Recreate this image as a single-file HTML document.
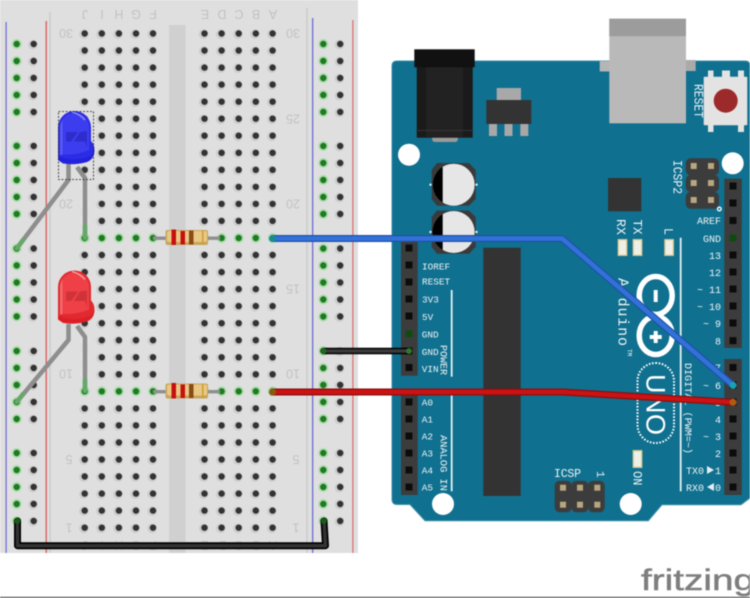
<!DOCTYPE html>
<html><head><meta charset="utf-8"><style>
html,body{margin:0;padding:0;background:#fff;width:750px;height:598px;overflow:hidden}
svg{display:block;filter:blur(.4px)}
.bl{font-family:"Liberation Sans",sans-serif;font-size:12.500px;fill:#c2c2c2;text-anchor:middle}
.m{font-family:"Liberation Mono","DejaVu Sans Mono",monospace;font-size:10px;fill:#eef4f6}
.l{font-size:9.400px}
.e{text-anchor:end}
.b{font-size:13px}
</style></head><body>
<svg width="750" height="598" viewBox="0 0 750 598" xmlns="http://www.w3.org/2000/svg">
<defs>
<g id="h"><circle cx="-.8" cy=".6" r="4.800" fill="#cdcdcd"/><circle r="3.200" fill="#333"/></g>
<g id="g"><circle r="5" fill="#aadcaa"/><circle r="3.200" fill="#1f7a22"/></g>
<g id="m"><use href="#h" x="84.7"/><use href="#h" x="101.8"/><use href="#h" x="118.9"/><use href="#h" x="136"/><use href="#h" x="153"/><use href="#h" x="204.5"/><use href="#h" x="221.6"/><use href="#h" x="238.7"/><use href="#h" x="255.8"/><use href="#h" x="272.6"/></g>
<g id="mg"><use href="#g" x="84.7"/><use href="#g" x="101.8"/><use href="#g" x="118.9"/><use href="#g" x="136"/><use href="#g" x="153"/><use href="#g" x="204.5"/><use href="#g" x="221.6"/><use href="#g" x="238.7"/><use href="#g" x="255.8"/><use href="#g" x="272.6"/></g>
<g id="r"><use href="#g" x="16.7"/><use href="#h" x="33.7"/><use href="#g" x="323.3"/><use href="#h" x="340.2"/></g>
<g id="res">
<rect x="153" y="-1.500" width="67" height="3.400" fill="#8f8f8f"/>
<rect x="165.500" y="-8" width="42.500" height="15" rx="2" fill="#c9a45c"/>
<rect x="167" y="-7" width="40" height="11" rx="2" fill="#e9c784"/>
<rect x="171.500" y="-8.500" width="4.500" height="15.500" fill="#c5100f"/>
<rect x="180.500" y="-7" width="4.500" height="13.500" fill="#c5100f"/>
<rect x="189" y="-7.500" width="4.500" height="14" fill="#8a4b14"/>
<rect x="202" y="-8" width="1.500" height="15" fill="#c9a030"/>
</g>
<path id="ledb" d="M58 156V127.500A16.500 16.500 0 0 1 91 127.500V141Q94.500 144 94.500 150.500Q94.500 159 87 162Q75 165.500 63 163.500L58 160Z"/>
<g id="p"><rect x="-3.500" y="-3.500" width="7" height="7" fill="#0c0c0c"/></g>
<g id="ip"><rect x="-3" y="-3" width="6" height="6" fill="#b8a77e"/></g>
</defs>

<!-- breadboard -->
<rect width="358" height="553" fill="#dfdfdf"/>
<rect x="49" y="12" width="2" height="541" fill="#d0d0d0"/>
<rect x="306" y="8" width="2" height="545" fill="#d0d0d0"/>
<rect x="169" y="25" width="16.500" height="528" fill="#d0d0d0"/>
<rect x="5.500" y="22" width="1.200" height="531" fill="#6a6ad8"/>
<rect x="45.500" y="21" width="1.500" height="532" fill="#dc6a6a"/>
<rect x="312" y="18" width="1.300" height="535" fill="#6a6ad8"/>
<rect x="352.300" y="20" width="1.200" height="533" fill="#dc6a6a"/>

<g>
<use href="#m" y="33.500"/><use href="#m" y="50.500"/><use href="#m" y="67.600"/><use href="#m" y="84.600"/><use href="#m" y="101.700"/><use href="#m" y="118.700"/><use href="#m" y="135.700"/><use href="#m" y="152.800"/><use href="#m" y="169.800"/><use href="#m" y="186.900"/><use href="#m" y="203.900"/><use href="#m" y="220.900"/><use href="#mg" y="238"/><use href="#m" y="255"/><use href="#m" y="272.100"/><use href="#m" y="289.100"/><use href="#m" y="306.100"/><use href="#m" y="323.200"/><use href="#m" y="340.200"/><use href="#m" y="357.300"/><use href="#m" y="374.300"/><use href="#mg" y="391.300"/><use href="#m" y="408.400"/><use href="#m" y="425.400"/><use href="#m" y="442.500"/><use href="#m" y="459.500"/><use href="#m" y="476.500"/><use href="#m" y="493.600"/><use href="#m" y="510.600"/><use href="#m" y="527.700"/>
</g>
<g>
<use href="#r" y="44"/><use href="#r" y="61"/><use href="#r" y="78"/><use href="#r" y="95"/><use href="#r" y="112"/><use href="#r" y="146"/><use href="#r" y="163"/><use href="#r" y="180"/><use href="#r" y="197"/><use href="#r" y="214"/><use href="#r" y="248.500"/><use href="#r" y="265.500"/><use href="#r" y="282.500"/><use href="#r" y="299.500"/><use href="#r" y="316.500"/><use href="#r" y="351"/><use href="#r" y="368"/><use href="#r" y="385"/><use href="#r" y="402"/><use href="#r" y="419"/><use href="#r" y="453"/><use href="#r" y="470"/><use href="#r" y="487"/><use href="#r" y="504"/><use href="#r" y="521"/>
</g>
<!-- holes hidden under LED leads -->
<g fill="#e2e2e2"><circle cx="84.700" cy="186.900" r="5.500"/><circle cx="84.700" cy="203.900" r="5.500"/><circle cx="84.700" cy="220.900" r="5.500"/><circle cx="84.700" cy="340.200" r="5.500"/><circle cx="84.700" cy="357.300" r="5.500"/><circle cx="84.700" cy="374.300" r="5.500"/></g>

<!-- breadboard labels -->
<g class="bl">
<text transform="rotate(180 85 15)" x="85" y="20">J</text><text transform="rotate(180 102 15)" x="102" y="20">I</text><text transform="rotate(180 119 15)" x="119" y="20">H</text><text transform="rotate(180 136 15)" x="136" y="20">G</text><text transform="rotate(180 153 15)" x="153" y="20">F</text>
<text transform="rotate(180 205 15)" x="205" y="20">E</text><text transform="rotate(180 222 15)" x="222" y="20">D</text><text transform="rotate(180 239 15)" x="239" y="20">C</text><text transform="rotate(180 256 15)" x="256" y="20">B</text><text transform="rotate(180 273 15)" x="273" y="20">A</text>
<text transform="rotate(180 85 546)" x="85" y="551">J</text><text transform="rotate(180 102 546)" x="102" y="551">I</text><text transform="rotate(180 119 546)" x="119" y="551">H</text><text transform="rotate(180 136 546)" x="136" y="551">G</text><text transform="rotate(180 153 546)" x="153" y="551">F</text>
<text transform="rotate(180 205 546)" x="205" y="551">E</text><text transform="rotate(180 222 546)" x="222" y="551">D</text><text transform="rotate(180 239 546)" x="239" y="551">C</text><text transform="rotate(180 256 546)" x="256" y="551">B</text><text transform="rotate(180 273 546)" x="273" y="551">A</text>
<text transform="rotate(180 66 33.500)" x="66" y="38">30</text><text transform="rotate(180 66 204)" x="66" y="208.500">20</text><text transform="rotate(180 66 374)" x="66" y="378.500">10</text><text transform="rotate(180 69 459.500)" x="69" y="464">5</text><text transform="rotate(180 69 527.700)" x="69" y="532">1</text>
<text transform="rotate(180 293 33.500)" x="293" y="38">30</text><text transform="rotate(180 293 118.700)" x="293" y="123">25</text><text transform="rotate(180 293 204)" x="293" y="208.500">20</text><text transform="rotate(180 293 289)" x="293" y="293.500">15</text><text transform="rotate(180 293 374)" x="293" y="378.500">10</text><text transform="rotate(180 296 459.500)" x="296" y="464">5</text><text transform="rotate(180 296 527.700)" x="296" y="532">1</text>
</g>

<!-- resistors -->
<use href="#res" y="238"/>
<use href="#res" y="391.500"/>

<!-- LED leads -->
<g fill="none" stroke="#8e8e8e" stroke-width="4.500" stroke-linejoin="round">
<path d="M68.500 164V180L16.700 248.500"/><path d="M77 167L85 178V238"/>
<path d="M68.500 324V340L16.700 402"/><path d="M77 326L85 337V391"/>
</g>
<g stroke="#67a86a" stroke-width="4.500" fill="none" stroke-linecap="round">
<path d="M85 226V238"/><path d="M85 380V391"/><path d="M23 240L16.700 248.500"/><path d="M23 394L16.700 402"/>
</g>

<!-- blue LED -->
<use href="#ledb" fill="#2c2ce6"/>
<path d="M60 156V127.500A14.500 14.500 0 0 1 89 127.500V150Q75 156 60 154Z" fill="#3d3df0"/>
<path d="M60 155V128A14 14 0 0 1 62.500 120V155Z" fill="#5a5af2"/>
<path d="M66 132H78L71 141.500H66ZM80 132L87 131V148L85 141.500H74Z" fill="#2d2dcc"/>
<path d="M58 156Q74 163 91 156L94 150Q94 159 87 162Q75 165 63 163L58 160Z" fill="#2222dd"/>
<path d="M72 112Q80 114 85 120" stroke="#8b8bf5" stroke-width="1.500" fill="none"/>
<rect x="58.500" y="111.500" width="35" height="68" fill="none" stroke="#222" stroke-width=".8" stroke-dasharray="2 1.500"/>

<!-- red LED -->
<g transform="translate(0 159.500)">
<use href="#ledb" fill="#e02a30"/>
<path d="M60 156V127.500A14.500 14.500 0 0 1 89 127.500V150Q75 156 60 154Z" fill="#ee4046"/>
<path d="M60 155V128A14 14 0 0 1 62.500 120V155Z" fill="#f26a6c"/>
<path d="M66 132H78L71 141.500H66ZM80 132L87 131V148L85 141.500H74Z" fill="#cf3338"/>
<path d="M58 156Q74 163 91 156L94 150Q94 159 87 162Q75 165 63 163L58 160Z" fill="#dc1f26"/>
<path d="M72 112Q80 114 85 120" stroke="#f69a9a" stroke-width="1.500" fill="none"/>
</g>

<!-- Arduino board -->
<path d="M397 61H745Q750 61 750 66V498L741 504.700H662L648.300 520.700H425L410 504.500H397Q392 504.500 392 499V66Q392 61 397 61Z" fill="#10708f" stroke="#3d8faa" stroke-width="1"/>
<!-- mount holes -->
<g fill="#fff"><circle cx="409" cy="154.700" r="11"/><circle cx="732.700" cy="163.300" r="11"/><circle cx="443" cy="504" r="11"/><circle cx="630.700" cy="504" r="11"/></g>
<!-- barrel jack -->
<rect x="432" y="136" width="26" height="6" fill="#9a9a9a" rx="3"/>
<rect x="416.700" y="67" width="56" height="70.700" fill="#1a1a1a"/>
<rect x="426" y="67" width="37" height="70" fill="#222"/>
<rect x="414.300" y="49.300" width="60.400" height="18" fill="#111"/>
<rect x="416" y="130" width="57" height="1" fill="#333"/>
<!-- regulator -->
<rect x="496.700" y="88" width="24.300" height="13" fill="#a8a8a8"/>
<rect x="489" y="123" width="8" height="13" fill="#a8a8a8"/><rect x="504.500" y="123" width="8" height="13" fill="#a8a8a8"/><rect x="520.300" y="123" width="8" height="13" fill="#a8a8a8"/>
<rect x="486.300" y="100" width="45" height="24" fill="#333"/>
<!-- USB -->
<rect x="599.700" y="61" width="12" height="10.500" fill="#b5b5b5"/><rect x="684" y="60" width="11.700" height="11" fill="#aaa"/>
<rect x="609.300" y="18.700" width="76.700" height="104.600" fill="#b9b9b9"/>
<rect x="609.300" y="18.700" width="76.700" height="17.500" fill="#9c9c9c"/>
<!-- reset -->
<g fill="#e3e3e3"><rect x="708" y="70.500" width="5.500" height="7"/><rect x="722" y="70.500" width="8" height="7"/><rect x="738" y="70.500" width="6" height="7"/><rect x="708" y="124" width="5.500" height="8"/><rect x="738" y="124" width="6" height="8"/></g>
<rect x="703.700" y="76.700" width="43.600" height="48.600" rx="1" fill="#e3e3e3"/>
<circle cx="725.700" cy="100.700" r="12" fill="#9c2a2a"/>
<text class="m b" transform="translate(694.500 84) rotate(90)" textLength="34" lengthAdjust="spacingAndGlyphs">RESET</text>
<!-- capacitors -->
<g><path d="M437 163H469L475.700 170V199L469 205.700H437L431.700 199V170Z" fill="#3a3a3a"/><circle cx="453.700" cy="184.700" r="21" fill="#e6e6e6"/><path d="M442.700 166.800A21 21 0 0 0 442.700 202.600Z" fill="#000"/><circle cx="430.500" cy="184.700" r="1.200" fill="#eee"/><circle cx="476.500" cy="184.700" r="1.200" fill="#eee"/></g>
<g><path d="M437 210.500H469L475.700 217V247L469 253.700H437L431.700 247V217Z" fill="#3a3a3a"/><circle cx="453.700" cy="232" r="21" fill="#e6e6e6"/><path d="M442.700 214A21 21 0 0 0 442.700 250Z" fill="#000"/><circle cx="430.500" cy="232" r="1.200" fill="#eee"/><circle cx="476.500" cy="232" r="1.200" fill="#eee"/></g>
<!-- chips -->
<rect x="608" y="178" width="33.300" height="33.300" fill="#333"/>
<rect x="483.300" y="247.700" width="37.400" height="248.300" fill="#333"/>
<!-- ICSP2 -->
<g fill="#3c3c3c"><rect x="685.700" y="158.300" width="33.300" height="17" rx="5"/><rect x="685.700" y="175" width="33.300" height="17" rx="5"/><rect x="685.700" y="191.800" width="33.300" height="17" rx="5"/></g>
<use href="#ip" x="693.700" y="166"/><use href="#ip" x="711" y="166"/><use href="#ip" x="693.700" y="183"/><use href="#ip" x="711" y="183"/><use href="#ip" x="693.700" y="200"/><use href="#ip" x="711" y="200"/>
<circle cx="719.300" cy="209" r="1.800" fill="none" stroke="#fff" stroke-width="1.300"/>
<text class="m b" transform="translate(673.500 160) rotate(90)" textLength="34" lengthAdjust="spacingAndGlyphs">ICSP2</text>
<!-- headers -->
<g fill="#3c3c3c"><rect x="724.300" y="178.700" width="17.400" height="169.300"/><rect x="724.300" y="359" width="17.400" height="136"/><rect x="401" y="242" width="16.700" height="133.700"/><rect x="401" y="394" width="16.700" height="101"/></g>
<use href="#p" x="733" y="186"/><use href="#p" x="733" y="203"/><use href="#p" x="733" y="220.500"/><rect x="729.500" y="234.500" width="7" height="7" fill="#0f4a12"/><use href="#p" x="733" y="255"/><use href="#p" x="733" y="272"/><use href="#p" x="733" y="289"/><use href="#p" x="733" y="306"/><use href="#p" x="733" y="323"/><use href="#p" x="733" y="340.700"/>
<use href="#p" x="733" y="367.500"/><use href="#p" x="733" y="385"/><use href="#p" x="733" y="402"/><use href="#p" x="733" y="419"/><use href="#p" x="733" y="436"/><use href="#p" x="733" y="453"/><use href="#p" x="733" y="470"/><use href="#p" x="733" y="487"/>
<use href="#p" x="409" y="248"/><use href="#p" x="409" y="265"/><use href="#p" x="409" y="282"/><use href="#p" x="409" y="299"/><use href="#p" x="409" y="316"/><rect x="405.500" y="330.200" width="7" height="7" fill="#0f4a12"/><use href="#p" x="409" y="351"/><use href="#p" x="409" y="367.500"/>
<use href="#p" x="409" y="402"/><use href="#p" x="409" y="419"/><use href="#p" x="409" y="436"/><use href="#p" x="409" y="453"/><use href="#p" x="409" y="470"/><use href="#p" x="409" y="487"/>
<!-- white lines -->
<g fill="#e4f0f4"><rect x="450.800" y="290" width="1.800" height="86.700"/><rect x="450.800" y="394" width="1.800" height="97.300"/><rect x="679.800" y="237.700" width="1.800" height="253.600"/></g>
<!-- left labels -->
<g class="m l">
<text x="422" y="269.500">IOREF</text><text x="422" y="284.500">RESET</text><text x="422" y="302.500">3V3</text><text x="422" y="320">5V</text><text x="421.700" y="337.500">GND</text><text x="421.700" y="355">GND</text><text x="421.700" y="372">VIN</text>
<text x="421.700" y="405.500">A0</text><text x="421.700" y="422.500">A1</text><text x="421.700" y="439.500">A2</text><text x="421.700" y="456.500">A3</text><text x="421.700" y="473.500">A4</text><text x="421.700" y="490.500">A5</text>
<text transform="translate(440.500 345) rotate(90)" textLength="30" lengthAdjust="spacingAndGlyphs" style="font-size:10.500px">POWER</text>
<text transform="translate(440.500 435) rotate(90)" textLength="56" lengthAdjust="spacingAndGlyphs" style="font-size:10.500px">ANALOG IN</text>
</g>
<!-- right labels -->
<g class="m e">
<text x="721" y="224">AREF</text><text x="721" y="242">GND</text><text x="721" y="259">13</text><text x="721" y="276">12</text><text x="721" y="293">~ 11</text><text x="721" y="310">~ 10</text><text x="721" y="327">~ 9</text><text x="721" y="344.500">8</text>
<text x="721" y="371">7</text><text x="721" y="389">~ 6</text><text x="721" y="406">5</text><text x="721" y="423">4</text><text x="721" y="440">~ 3</text><text x="721" y="457">2</text><text x="721" y="474">1</text><text x="721" y="491">0</text>
</g>
<text class="m" x="686" y="474">TX0</text><text class="m" x="686" y="491">RX0</text>
<path d="M707 466V474L714 470ZM714 483V491L707 487Z" fill="#e6eff3"/>
<text class="m" transform="translate(685 363) rotate(90)" textLength="91" lengthAdjust="spacingAndGlyphs">DIGITAL (PWM=~)</text>
<text class="m b" transform="translate(617 219) rotate(90)" textLength="16" lengthAdjust="spacingAndGlyphs">RX</text>
<text class="m b" transform="translate(633.500 219.500) rotate(90)" textLength="15" lengthAdjust="spacingAndGlyphs">TX</text>
<text class="m b" transform="translate(664.500 228) rotate(90)" textLength="7" lengthAdjust="spacingAndGlyphs">L</text>
<text class="m b" transform="translate(633.500 471) rotate(90)" textLength="14.500" lengthAdjust="spacingAndGlyphs">ON</text>
<!-- small LEDs -->
<g fill="#efefe9" stroke="#dccb8e" stroke-width="1.300"><rect x="618.300" y="239.700" width="8.400" height="15.600"/><rect x="633.300" y="239.700" width="8.400" height="15.600"/><rect x="664.900" y="239.700" width="8.400" height="15.600"/><rect x="633.300" y="450.700" width="8.400" height="16.600"/></g>
<!-- ICSP bottom -->
<g fill="#3c3c3c"><rect x="554.700" y="480.700" width="17" height="31.600" rx="5"/><rect x="571.400" y="480.700" width="17" height="31.600" rx="5"/><rect x="588" y="480.700" width="16.700" height="31.600" rx="5"/></g>
<use href="#ip" x="563" y="487.700"/><use href="#ip" x="580" y="487.700"/><use href="#ip" x="597.300" y="487.700"/><use href="#ip" x="563" y="504.700"/><use href="#ip" x="580" y="504.700"/><use href="#ip" x="597.300" y="504.700"/>
<text class="m" x="554" y="477" textLength="27" style="font-size:11.500px">ICSP</text>
<text class="m" transform="translate(597 471) rotate(90)" style="font-size:11px">1</text>
<!-- Arduino logo -->
<g fill="none" stroke="#fff" stroke-width="5.500"><ellipse cx="655.700" cy="295.500" rx="16.500" ry="19"/><ellipse cx="655.700" cy="335.500" rx="16.500" ry="19"/></g>
<rect x="653.700" y="290" width="4" height="12" fill="#fff"/>
<rect x="653.700" y="331" width="4" height="12" fill="#fff"/><rect x="649.700" y="335" width="12" height="4" fill="#fff"/>
<text class="m" transform="translate(618.500 278) rotate(90)" textLength="68" style="font-size:15px">Arduino</text>
<text class="m" transform="translate(627.500 349) rotate(90)" style="font-size:6px">TM</text>
<!-- UNO -->
<rect x="637.500" y="363" width="36.500" height="80" rx="18" fill="none" stroke="#fff" stroke-width="2" stroke-dasharray="1.600 1.600"/>
<text transform="translate(646.500 374) rotate(90)" font-family="'Liberation Sans',sans-serif" font-size="27" fill="#fff" textLength="61">UNO</text>

<!-- wires -->
<g fill="none" stroke-linejoin="round" stroke-linecap="round">
<path d="M323.500 351H409" stroke="#000" stroke-width="6.500"/><path d="M323.500 351H409" stroke="#3c3c3c" stroke-width="3.500"/>
<path d="M17.500 521V545.700H325.500L324 521" stroke="#000" stroke-width="7"/><path d="M17.500 521V545.700H325.500L324 521" stroke="#333" stroke-width="3.500"/>
<path d="M272.600 238.500H562L733 385.300" stroke="#1f52ab" stroke-width="7"/><path d="M272.600 238.500H562L733 385.300" stroke="#3272d8" stroke-width="4.500"/>
<path d="M272.600 392H563L733 402.300" stroke="#8a0f10" stroke-width="7"/><path d="M272.600 392H563L733 402.300" stroke="#cc1212" stroke-width="4.500"/>
</g>
<circle cx="272.600" cy="238.500" r="3.500" fill="#1a8a90"/>
<circle cx="733" cy="385.300" r="3.500" fill="#17a3ad"/>
<circle cx="272.600" cy="392" r="3.500" fill="#8a5a12"/>
<circle cx="733" cy="402.300" r="3.500" fill="#b35a10"/>
<circle cx="409" cy="351" r="3" fill="#2a7a2a"/>
<circle cx="323.500" cy="351" r="3" fill="#1f6a22"/>
<circle cx="17.300" cy="521" r="3" fill="#1a5a1f"/>
<circle cx="323.800" cy="521" r="3" fill="#1a5a1f"/>

<!-- fritzing logo -->
<text x="641" y="590" font-family="'Liberation Sans',sans-serif" font-size="30" fill="#7e7e7e" stroke="#7e7e7e" stroke-width=".5" textLength="114" lengthAdjust="spacingAndGlyphs">fritzing</text>
<rect x="0" y="596.800" width="750" height="1.200" fill="#555"/>
</svg>
</body></html>
